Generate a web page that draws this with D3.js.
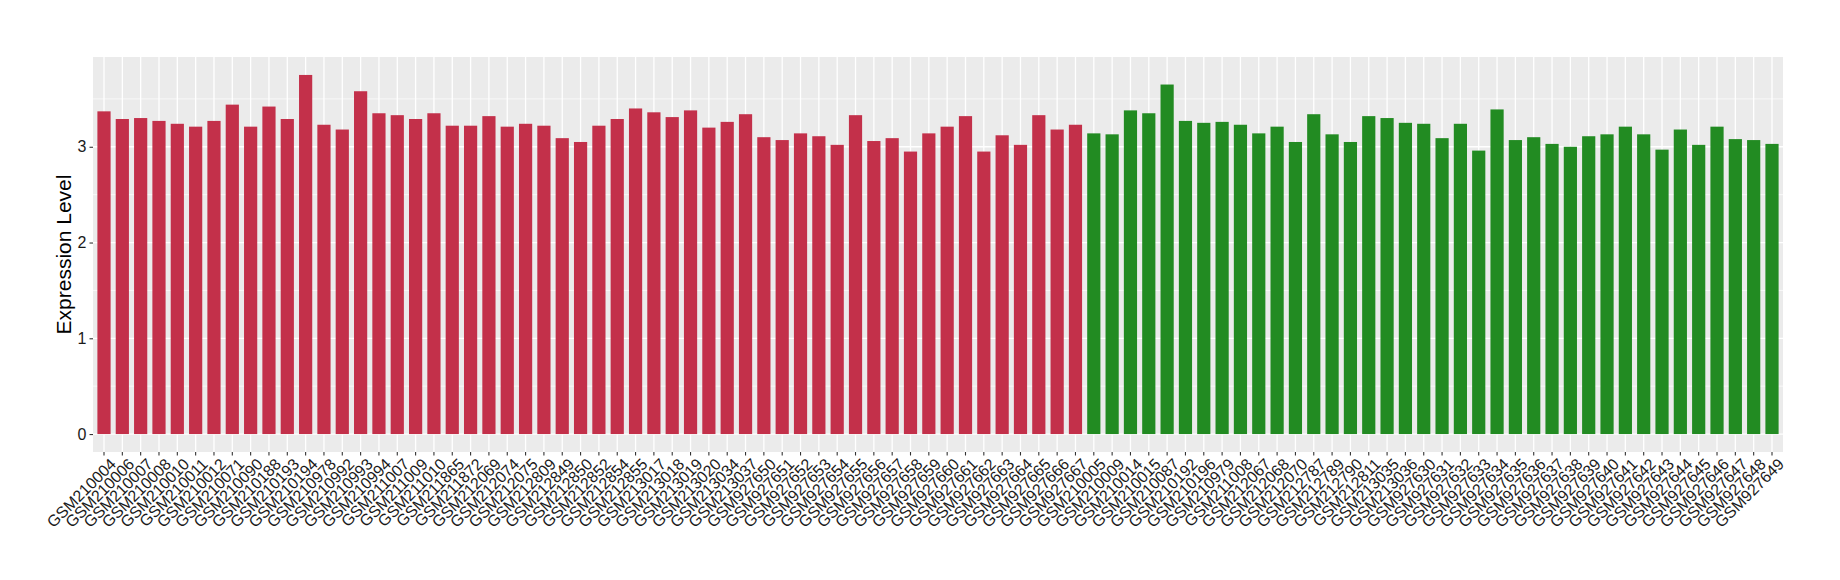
<!DOCTYPE html>
<html>
<head>
<meta charset="utf-8">
<script src="https://cdn.jsdelivr.net/npm/d3@7"></script>
<style>
  html, body { margin: 0; padding: 0; background: #ffffff; }
  svg { display: block; }
</style>
</head>
<body>
<svg id="chart" width="1840" height="580"></svg>
<script>
const redSamples = ["GSM210004","GSM210006","GSM210007","GSM210008","GSM210010","GSM210011","GSM210012","GSM210071","GSM210090","GSM210188","GSM210193","GSM210194","GSM210978","GSM210992","GSM210993","GSM210994","GSM211007","GSM211009","GSM211010","GSM211865","GSM211872","GSM212069","GSM212074","GSM212075","GSM212809","GSM212849","GSM212850","GSM212852","GSM212854","GSM212855","GSM213017","GSM213018","GSM213019","GSM213020","GSM213034","GSM213037","GSM927650","GSM927651","GSM927652","GSM927653","GSM927654","GSM927655","GSM927656","GSM927657","GSM927658","GSM927659","GSM927660","GSM927661","GSM927662","GSM927663","GSM927664","GSM927665","GSM927666","GSM927667"];
const redValues = [3.37,3.29,3.30,3.27,3.24,3.21,3.27,3.44,3.21,3.42,3.29,3.75,3.23,3.18,3.58,3.35,3.33,3.29,3.35,3.22,3.22,3.32,3.21,3.24,3.22,3.09,3.05,3.22,3.29,3.40,3.36,3.31,3.38,3.20,3.26,3.34,3.10,3.07,3.14,3.11,3.02,3.33,3.06,3.09,2.95,3.14,3.21,3.32,2.95,3.12,3.02,3.33,3.18,3.23];
const greenSamples = ["GSM210005","GSM210009","GSM210014","GSM210015","GSM210087","GSM210192","GSM210196","GSM210979","GSM211008","GSM212067","GSM212068","GSM212070","GSM212787","GSM212789","GSM212790","GSM212811","GSM213035","GSM213036","GSM927630","GSM927631","GSM927632","GSM927633","GSM927634","GSM927635","GSM927636","GSM927637","GSM927638","GSM927639","GSM927640","GSM927641","GSM927642","GSM927643","GSM927644","GSM927645","GSM927646","GSM927647","GSM927648","GSM927649"];
const greenValues = [3.14,3.13,3.38,3.35,3.65,3.27,3.25,3.26,3.23,3.14,3.21,3.05,3.34,3.13,3.05,3.32,3.30,3.25,3.24,3.09,3.24,2.96,3.39,3.07,3.10,3.03,3.00,3.11,3.13,3.21,3.13,2.97,3.18,3.02,3.21,3.08,3.07,3.03];
const yTicks = [0, 1, 2, 3];
const yTitle = "Expression Level";
const redColor = "#C3304A";
const greenColor = "#228B22";

const data = redSamples.map((s, i) => ({sample: s, value: redValues[i], color: redColor}))
  .concat(greenSamples.map((s, i) => ({sample: s, value: greenValues[i], color: greenColor})));

const svg = d3.select("#chart");
const panel = {left: 93, right: 1783, top: 57, bottom: 452};
const font = "'Liberation Sans', Arial, Helvetica, sans-serif";

const x = d3.scaleBand()
  .domain(data.map(d => d.sample))
  .range([panel.left, panel.right])
  .paddingInner(0.28)
  .paddingOuter(0.24);

const maxV = d3.max(data, d => d.value);
const pad = maxV * 0.05;
const y = d3.scaleLinear().domain([-pad, maxV + pad]).range([panel.bottom, panel.top]);

svg.append("rect")
  .attr("x", panel.left).attr("y", panel.top)
  .attr("width", panel.right - panel.left).attr("height", panel.bottom - panel.top)
  .attr("fill", "#EBEBEB");

const minor = [0.5, 1.5, 2.5, 3.5].filter(v => v < maxV + pad);
svg.append("g").selectAll("line").data(minor).join("line")
  .attr("x1", panel.left).attr("x2", panel.right)
  .attr("y1", d => y(d)).attr("y2", d => y(d))
  .attr("stroke", "#ffffff").attr("stroke-width", 0.7);

svg.append("g").selectAll("line").data(yTicks).join("line")
  .attr("x1", panel.left).attr("x2", panel.right)
  .attr("y1", d => y(d)).attr("y2", d => y(d))
  .attr("stroke", "#ffffff").attr("stroke-width", 1.3);
svg.append("g").selectAll("line").data(data).join("line")
  .attr("x1", d => x(d.sample) + x.bandwidth() / 2).attr("x2", d => x(d.sample) + x.bandwidth() / 2)
  .attr("y1", panel.top).attr("y2", panel.bottom)
  .attr("stroke", "#ffffff").attr("stroke-width", 1.3);

svg.append("g").selectAll("rect").data(data).join("rect")
  .attr("x", d => x(d.sample))
  .attr("width", x.bandwidth())
  .attr("y", d => y(d.value))
  .attr("height", d => y(0) - y(d.value))
  .attr("fill", d => d.color);

const yAxis = svg.append("g")
  .attr("transform", `translate(${panel.left},0)`)
  .call(d3.axisLeft(y).tickValues(yTicks).tickSize(3.5).tickPadding(3).tickFormat(d3.format("d")));
yAxis.select(".domain").remove();
yAxis.selectAll(".tick line").attr("stroke", "#333333").attr("stroke-width", 1.1);
yAxis.selectAll(".tick text").attr("fill", "#1A1A1A").style("font-family", font).style("font-size", "16px");

const xAxis = svg.append("g")
  .attr("transform", `translate(0,${panel.bottom})`)
  .call(d3.axisBottom(x).tickSize(3.5).tickPadding(3));
xAxis.select(".domain").remove();
xAxis.selectAll(".tick line").attr("stroke", "#333333").attr("stroke-width", 1.1);
xAxis.selectAll(".tick text")
  .attr("fill", "#1A1A1A")
  .style("font-family", font).style("font-size", "16px")
  .attr("text-anchor", "end")
  .attr("x", 0).attr("y", 7).attr("dy", "0.72em")
  .attr("transform", "rotate(-45)");

svg.append("text")
  .attr("transform", `translate(64,${(panel.top + panel.bottom) / 2}) rotate(-90)`)
  .attr("text-anchor", "middle")
  .attr("dy", "0.35em")
  .attr("fill", "#000000")
  .style("font-family", font).style("font-size", "21px")
  .text(yTitle);
</script>
</body>
</html>
